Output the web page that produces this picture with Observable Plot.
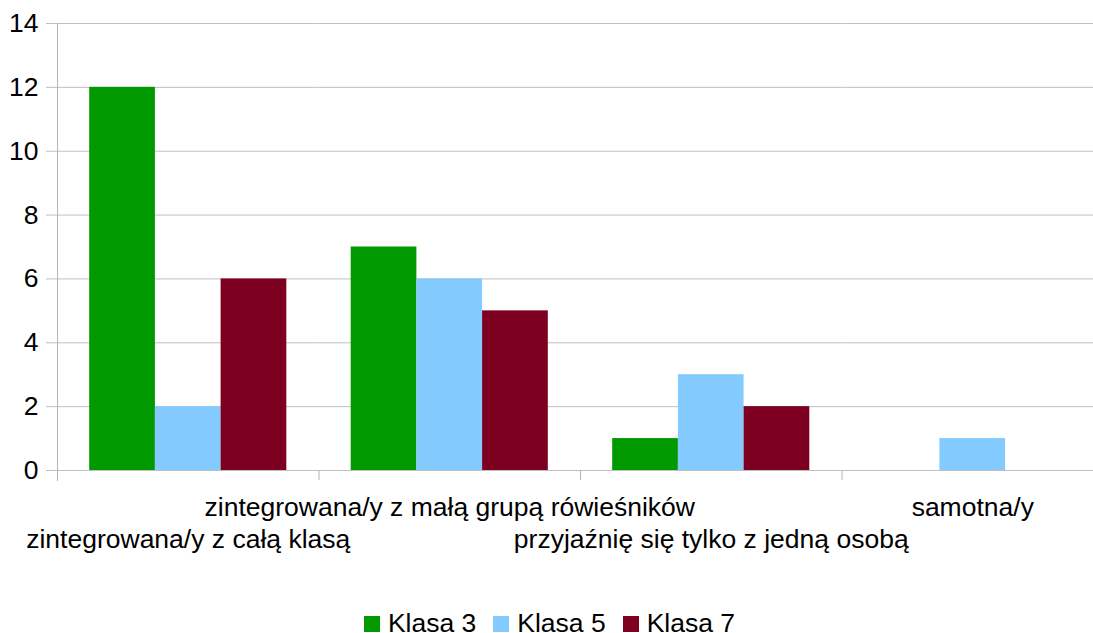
<!DOCTYPE html>
<html><head><meta charset="utf-8">
<script src="https://cdn.jsdelivr.net/npm/d3@7"></script>
<script src="https://cdn.jsdelivr.net/npm/@observablehq/plot@0.6"></script>
<style>
html,body{margin:0;padding:0;background:#fff;overflow:hidden}
#chart{width:1093px}
#legend{width:1093px;margin-top:48px}
#legend .lg-swatches{justify-content:center !important;font-size:26.5px !important;font-family:"Liberation Sans",Arial,sans-serif !important;color:#000 !important;margin:0 !important;display:flex !important;min-height:0 !important;padding-left:6px}
#legend .lg-swatch{margin-right:17px !important;font-size:26.5px !important}
#legend .lg-swatch:last-child{margin-right:0 !important}
#legend .lg-swatch > svg{margin-right:8px !important}
</style></head><body><div id="chart"></div><div id="legend"></div>
<script>
const categories = [
  "zintegrowana/y z całą klasą",
  "zintegrowana/y z małą grupą rówieśników",
  "przyjaźnię się tylko z jedną osobą",
  "samotna/y"
];
const series = ["Klasa 3", "Klasa 5", "Klasa 7"];
const klasa3 = [12, 7, 1, 0];
const klasa5 = [2, 6, 3, 1];
const klasa7 = [6, 5, 2, 0];
const colors = ["#009900", "#83caff", "#7e0021"];
const yTicks = [0, 2, 4, 6, 8, 10, 12, 14];

const seriesValues = [klasa3, klasa5, klasa7];
const data = categories.flatMap((c, i) => series.map((s, j) => ({category: c, series: s, value: seriesValues[j][i]})));

const W = 1093, H = 560, mL = 57, mR = -10, mT = 23, mB = 90;
const groupW = (W - mL - mR) / categories.length;
const font = "Liberation Sans, Arial, sans-serif";
const gridColor = "#c0c0c0";

const chart = Plot.plot({
  width: W, height: H,
  marginLeft: mL, marginRight: mR, marginTop: mT, marginBottom: mB,
  style: {fontSize: "26.5px", fontFamily: font, color: "#000", background: "#fff"},
  fx: {domain: categories, padding: 0, round: false, label: null},
  x: {domain: series, paddingInner: 0, paddingOuter: 0.49, round: false, axis: null},
  y: {domain: [0, 14], ticks: yTicks, label: null},
  color: {domain: series, range: colors},
  marks: [
    Plot.gridY(yTicks, {stroke: gridColor, strokeOpacity: 1}),
    Plot.barY(data, {fx: "category", x: "series", y: "value", fill: "series"}),
    Plot.frame({anchor: "left", facetAnchor: "left", stroke: "#b3b3b3", insetBottom: -10}),
    Plot.axisY(yTicks, {tickSize: 11, tickPadding: 8, stroke: gridColor, strokeOpacity: 1, label: null, fill: "#000"}),
    Plot.axisFx({anchor: "bottom", ticks: categories, tickSize: 10, stroke: "#b3b3b3", fill: "none", dx: -groupW / 2, label: null}),
    Plot.axisFx({anchor: "bottom", ticks: [categories[1], categories[3]], tickSize: 0, tickPadding: 27, fill: "#000", label: null}),
    Plot.axisFx({anchor: "bottom", ticks: [categories[0], categories[2]], tickSize: 0, tickPadding: 59, fill: "#000", label: null})
  ]
});
document.getElementById("chart").appendChild(chart);

const legend = Plot.legend({
  color: {domain: series, range: colors},
  legend: "swatches",
  swatchSize: 16,
  className: "lg"
});
document.getElementById("legend").appendChild(legend);
</script>
</body></html>
